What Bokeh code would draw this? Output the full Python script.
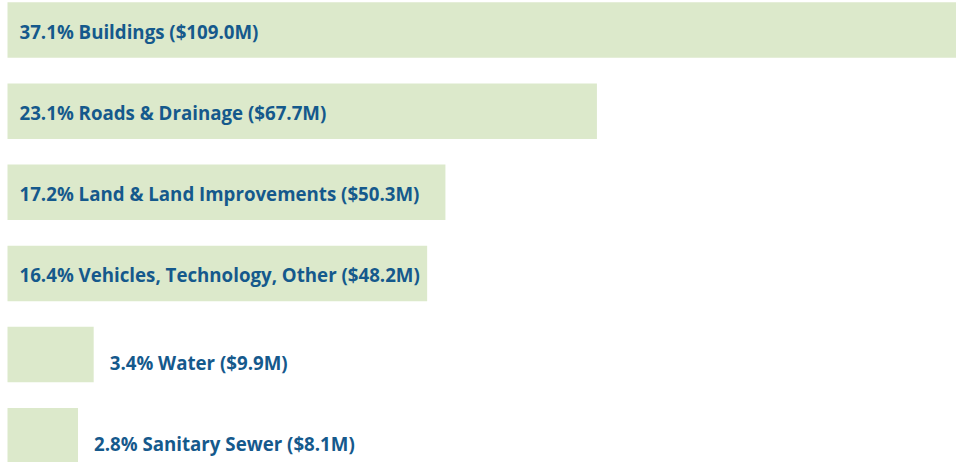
from bokeh.plotting import figure
from bokeh.models import ColumnDataSource, Range1d
from bokeh.core.properties import value
from bokeh.embed import file_html
from bokeh.resources import INLINE

categories = ["Buildings", "Roads & Drainage", "Land & Land Improvements",
              "Vehicles, Technology, Other", "Water", "Sanitary Sewer"]
percents = [37.1, 23.1, 17.2, 16.4, 3.4, 2.8]
amounts = [109.0, 67.7, 50.3, 48.2, 9.9, 8.1]

labels = [f"{p}% {c} (${a}M)" for p, c, a in zip(percents, categories, amounts)]
idx = list(range(len(categories)))

W, H = 956, 462
row_px = 81.15          # pixel spacing between rows
bar_h = 55.5 / row_px   # bar thickness as a fraction of row spacing
top_px = 29.5           # centre of first bar from top
left_px = 7             # left edge of bars
xmax = max(amounts)
x_start = -left_px * xmax / (W - left_px)
y_top = -top_px / row_px
y_bot = y_top + H / row_px

p = figure(width=W, height=H, output_backend="svg", toolbar_location=None,
           x_range=Range1d(x_start, xmax),
           y_range=Range1d(y_bot, y_top),
           min_border=0, outline_line_color=None)
p.axis.visible = False
p.grid.visible = False
p.background_fill_color = "white"
p.border_fill_color = "white"

src = ColumnDataSource(dict(y=idx, right=amounts, label=labels))
p.hbar(y="y", left=0, right="right", height=bar_h, source=src,
       fill_color="#dce9cb", line_color=None)

inside = [a > 20 for a in amounts]
in_src = ColumnDataSource(dict(
    x=[0 for a, ins in zip(amounts, inside) if ins],
    y=[i for i, ins in zip(idx, inside) if ins],
    t=[l for l, ins in zip(labels, inside) if ins]))
out_src = ColumnDataSource(dict(
    x=[a for a, ins in zip(amounts, inside) if not ins],
    y=[i for i, ins in zip(idx, inside) if not ins],
    t=[l for l, ins in zip(labels, inside) if not ins]))

common = dict(text_font=value("Open Sans"), text_font_style="bold",
              text_font_size="18.7px", text_color="#15598c",
              text_baseline="middle", text_align="left")
p.text(x="x", y="y", text="t", source=in_src, x_offset=12, y_offset=1.5, **common)
p.text(x="x", y="y", text="t", source=out_src, x_offset=16, y_offset=8, **common)

open("out.html", "w").write(file_html(p, INLINE))
